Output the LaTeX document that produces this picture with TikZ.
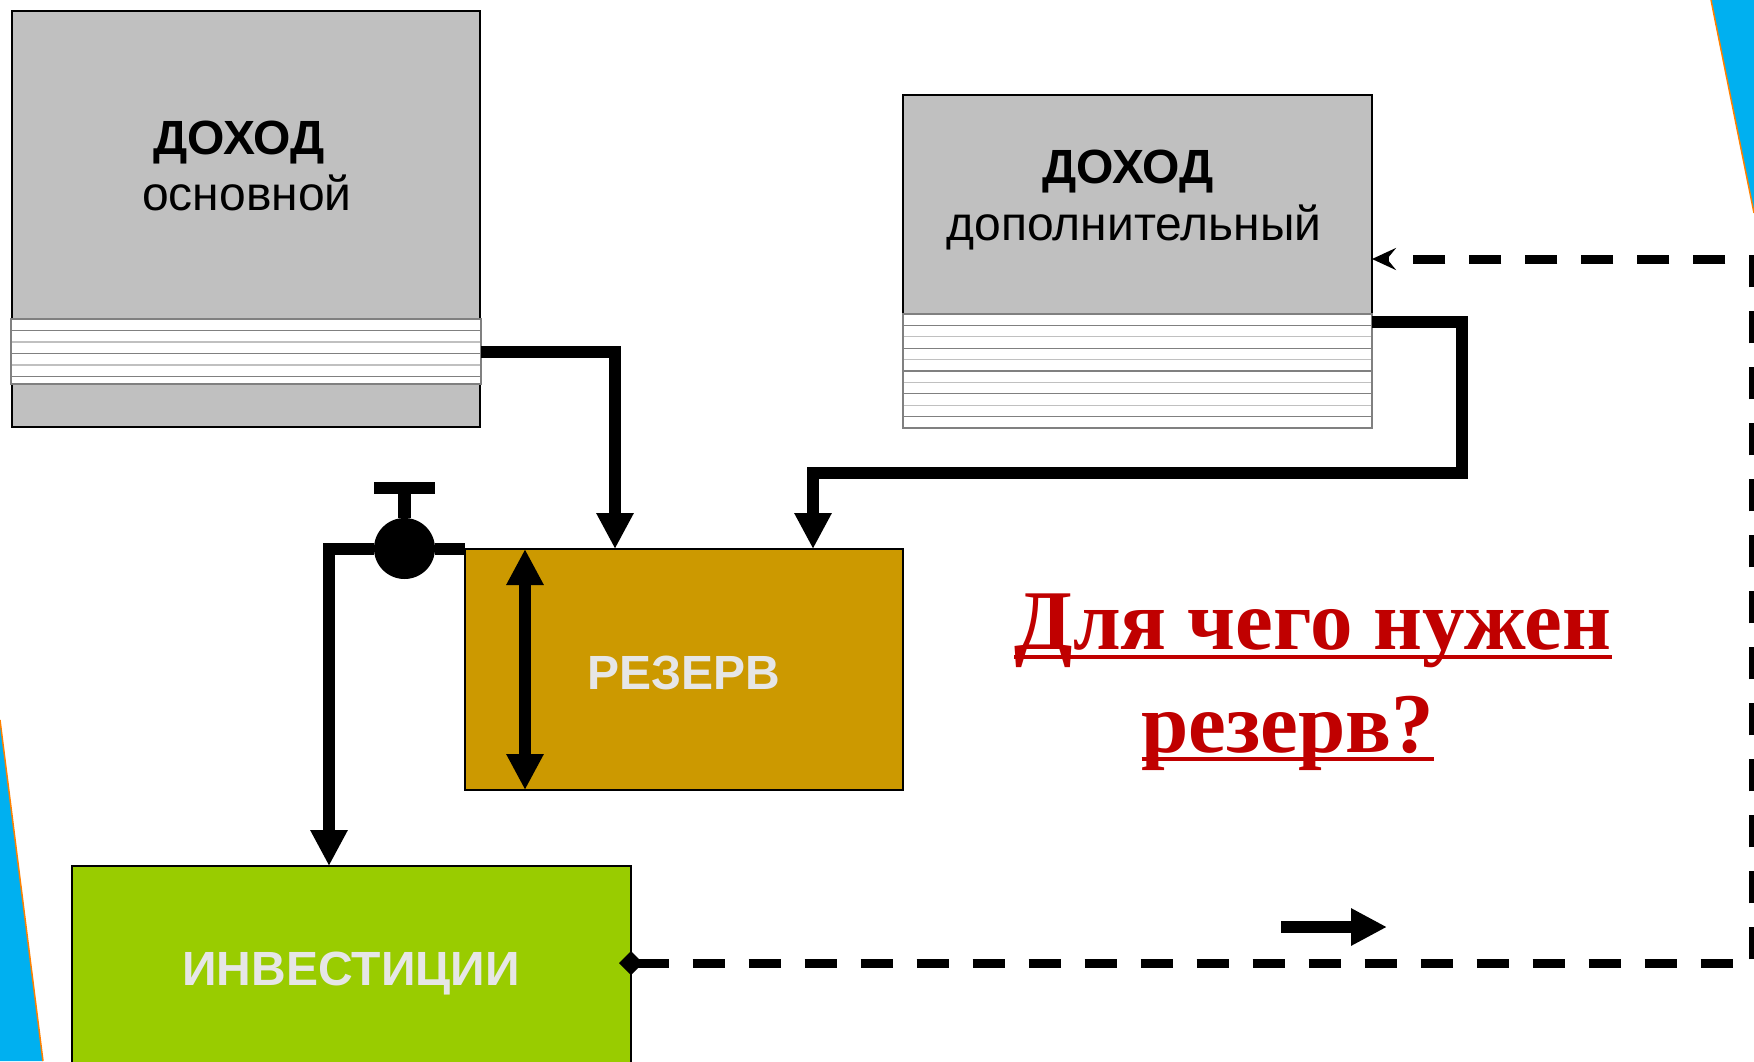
\documentclass[tikz,border=0pt]{standalone}
\usepackage{fontspec}
\setmainfont{Liberation Sans}
\newfontfamily\serifq{Liberation Serif}
\usetikzlibrary{arrows.meta}
\definecolor{korob}{HTML}{C0C0C0}
\definecolor{zoloto}{HTML}{CC9900}
\definecolor{salat}{HTML}{99CC00}
\definecolor{nadpis}{HTML}{E6E6E6}
\definecolor{goluboy}{HTML}{00B0F0}
\definecolor{krasny}{HTML}{C00000}
\definecolor{polosa}{HTML}{808080}
\tikzset{
  box/.style={draw, line width=2pt, inner sep=0pt, outer sep=0pt},
  stripebox/.style={draw=polosa, line width=2pt, fill=white, inner sep=0pt, outer sep=0pt},
  pipe/.style={line width=12pt, >={Triangle[length=36pt,width=35pt]}},
  backline/.style={line width=9pt, dash pattern=on 32pt off 24pt},
  big/.style={inner sep=0pt, anchor=base, font=\fontsize{48}{52}\selectfont},
}
\begin{document}
\begin{tikzpicture}[x=1pt, y=-1pt]
\clip (0,0) rectangle (1754,1061);
% ugolki
\fill[goluboy] (0,720)--(43,1061)--(0,1061)--cycle;
\draw[orange, line width=1.5pt] (0,720)--(43,1061);
\fill[goluboy] (1711,0)--(1754,0)--(1754,213)--cycle;
\draw[orange, line width=1.5pt] (1711,0)--(1754,213);

% dohody
\node (osn) [box, fill=korob, minimum width=468pt, minimum height=416pt] at (246,219) {};
\node (osnS) [stripebox, minimum width=470pt, minimum height=65pt] at (246,351.5) {};
\foreach \i in {1,3,5}
   \draw[polosa, line width=1.2pt] (12,319+11.5*\i)--(480,319+11.5*\i);
\foreach \i in {2,4}
   \draw[korob, line width=1.2pt] (12,319+11.5*\i)--(480,319+11.5*\i);
\node (osnT1) [big] at (239,154) {\bfseries ДОХОД};
\node (osnT2) [big] at (247,210) {основной};

\node (dop) [box, fill=korob, minimum width=469pt, minimum height=333pt] at (1137.5,261.5) {};
\node (dopS) [stripebox, minimum width=469pt, minimum height=114pt] at (1137.5,371) {};
\foreach \i in {1,3,...,9}
   \draw[polosa, line width=1.2pt] (904,314+11.4*\i)--(1371,314+11.4*\i);
\foreach \i in {2,4,...,8}
   \draw[korob, line width=1.2pt] (904,314+11.4*\i)--(1371,314+11.4*\i);
\node (dopT1) [big] at (1128,183) {\bfseries ДОХОД};
\node (dopT2) [big] at (1134,240) {дополнительный};

% rezerv i investicii
\node (rez) [box, fill=zoloto, minimum width=438pt, minimum height=241pt] at (684,669.5) {};
\node (rezT) [big, text=nadpis] at (684,689) {\bfseries РЕЗЕРВ};
\node (inv) [box, fill=salat, minimum width=559pt, minimum height=214pt] at (351.5,973) {};
\node (invT) [big, text=nadpis] at (351,985) {\bfseries ИНВЕСТИЦИИ};

\coordinate (vhod1) at (615,549);
\coordinate (vhod2) at (813,549);
\coordinate (vyhod2) at (1372,322);
\coordinate (invIn) at (329,866);
\coordinate (invOut) at (631,963);
\coordinate (urTop) at (525,549);
\coordinate (urBot) at (525,790);

\draw[pipe,->] (osnS.east) -| (vhod1);
\draw[pipe,->] (vyhod2) -- (1462,322) -- (1462,473) -| (vhod2);
\draw[pipe,<->] (urTop) -- (urBot);

% kran
\node (kran) [circle, fill, minimum size=61pt, inner sep=0pt] at (404.5,548.5) {};
\node (ruchka) [fill, minimum width=61pt, minimum height=12pt, inner sep=0pt] at (404.5,488) {};
\draw[line width=13pt] (kran) -- (ruchka);
\draw[pipe] (kran) -- (rez.west |- kran);
\draw[pipe,->] (kran) -| (invIn);

% vopros
\node (q1) [inner sep=0pt, anchor=base, text=krasny, font=\serifq\bfseries\fontsize{85}{90}\selectfont] at (1313,649) {Для чего нужен};
\node (q2) [inner sep=0pt, anchor=base, text=krasny, font=\serifq\bfseries\fontsize{85}{90}\selectfont] at (1288,752) {резерв?};
\draw[krasny, line width=4pt] ([yshift=-8pt]q1.base west) -- ([yshift=-8pt]q1.base east);
\draw[krasny, line width=4pt] ([yshift=-7pt]q2.base west) -- ([yshift=-7pt]q2.base east);

% obratnaya svyaz
\coordinate (strA) at (1281,927);
\coordinate (strB) at (1387,927);
\draw[pipe,->] (strA) -- (strB);
\draw[backline, {Diamond[length=24pt,width=24pt]}-{Stealth[length=24pt,width=22pt,inset=9pt]}, shorten <=-12pt]
   (invOut) -- (1753,963) -- (1753,259) -- (dop.east |- 0,259);
\end{tikzpicture}
\end{document}
